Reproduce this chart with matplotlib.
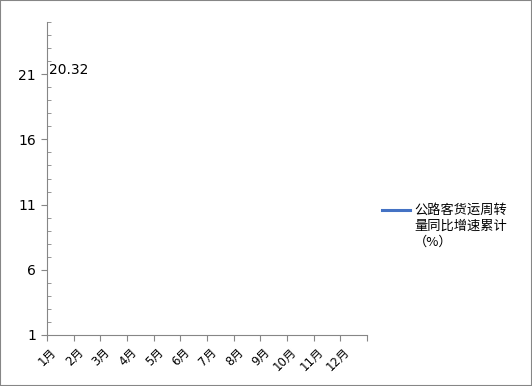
import matplotlib.pyplot as plt
import numpy as np
from matplotlib.legend_handler import HandlerLine2D
from matplotlib.patches import Rectangle
from matplotlib.ticker import MultipleLocator

plt.rcParams['font.family'] = ['DejaVu Sans', 'Noto Sans CJK SC']

months = ["1月", "2月", "3月", "4月", "5月", "6月", "7月", "8月", "9月", "10月", "11月", "12月"]
growth = [20.32] + [np.nan] * 11
series_name = "公路客货运周转\n量同比增速累计\n（%）"


class TopLineHandler(HandlerLine2D):
    # put the legend line beside the first line of a wrapped label
    def create_artists(self, legend, orig_handle, xdescent, ydescent, width, height, fontsize, trans):
        arts = super().create_artists(legend, orig_handle, xdescent, ydescent, width, height, fontsize, trans)
        for a in arts:
            a.set_ydata(np.asarray(a.get_ydata()) + 1.25 * fontsize)
        return arts


fig = plt.figure(figsize=(5.32, 3.86), dpi=100)
ax = fig.add_axes([47 / 532, 51 / 386, 320 / 532, 313 / 386])

x = np.arange(len(months)) + 0.5
line, = ax.plot(x, growth, color="#4472C4", lw=2.2, label=series_name)
ax.text(0.08, 20.32 + 0.45, f"{growth[0]:.2f}", ha="left", va="bottom", fontsize=10)

ax.set_xlim(0, 12)
ax.set_ylim(1, 25)
ax.set_yticks([1, 6, 11, 16, 21])
ax.yaxis.set_minor_locator(MultipleLocator(1))
ax.set_xticks(np.arange(13))
ax.set_xticklabels([])
# rotated labels: anchor a little left of the category centre
ax.set_xticks(x - 0.22, minor=True)
ax.set_xticklabels(months, minor=True, rotation=45, ha="right", va="center",
                   rotation_mode="anchor", fontsize=8.5)

gray = "#868686"
for s in ["top", "right"]:
    ax.spines[s].set_visible(False)
for s in ["left", "bottom"]:
    ax.spines[s].set_color(gray)
ax.tick_params(axis="y", which="major", direction="out", length=4, color=gray, labelsize=10, pad=4)
ax.tick_params(axis="y", which="minor", direction="in", length=3, color=gray)
ax.tick_params(axis="x", which="major", direction="out", length=4, color=gray)
ax.tick_params(axis="x", which="minor", length=0, pad=11)

leg = ax.legend(handler_map={line: TopLineHandler()},
                loc="center left", bbox_to_anchor=(382 / 532, 1 - 226 / 386),
                bbox_transform=fig.transFigure, frameon=False,
                prop={"family": ["Noto Sans CJK SC"], "size": 9.5},
                handlelength=2.1, handletextpad=0.35, borderpad=0, borderaxespad=0)
for t in leg.get_texts():
    t.set_multialignment("left")
    t.set_linespacing(1.3)

fig.patches.append(Rectangle((0, 0), 1, 1, transform=fig.transFigure, fill=False,
                             edgecolor=gray, lw=1.5))
fig.savefig("out.png", dpi=100)
